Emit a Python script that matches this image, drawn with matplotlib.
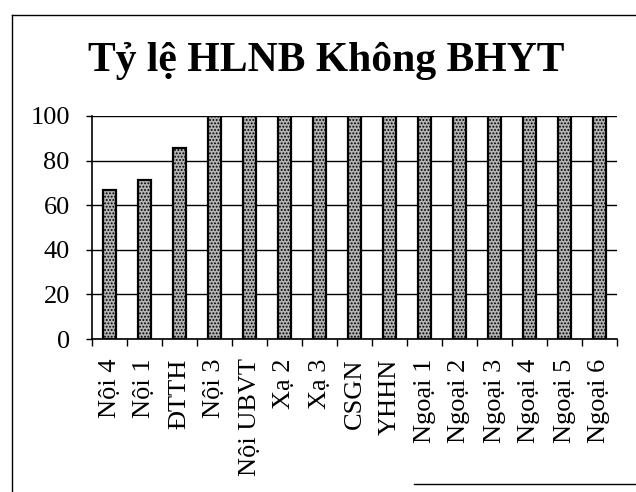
import matplotlib
matplotlib.use("Agg")
import matplotlib.pyplot as plt
from matplotlib.lines import Line2D
from matplotlib.ticker import FixedLocator, NullFormatter

plt.rcParams['font.family'] = ['Liberation Serif', 'DejaVu Serif']
plt.rcParams['hatch.linewidth'] = 0.9

title = "Tỷ lệ HLNB Không BHYT"
khoa = ["Nội 4", "Nội 1", "ĐTTH", "Nội 3", "Nội UBVT", "Xạ 2", "Xạ 3", "CSGN",
        "YHHN", "Ngoại 1", "Ngoại 2", "Ngoại 3", "Ngoại 4", "Ngoại 5", "Ngoại 6"]
ty_le = [66.7, 71.4, 85.7, 100, 100, 100, 100, 100,
         100, 100, 100, 100, 100, 100, 100]
y_ticks = [0, 20, 40, 60, 80, 100]

W, H = 636, 492
fig = plt.figure(figsize=(W / 100, H / 100), dpi=100)
ax = fig.add_axes([92 / W, 1 - 339 / H, (617 - 92) / W, (339 - 116) / H])

x = list(range(len(khoa)))
ax.bar(x, ty_le, width=0.37, color='#b4b4b4', edgecolor='black',
       linewidth=1.6, hatch='.....', zorder=3)

ax.set_xlim(-0.5, len(khoa) - 0.5)
ax.set_ylim(0, 100)
ax.set_yticks(y_ticks)
ax.yaxis.grid(True, color='black', linewidth=1.0, zorder=0)
ax.set_axisbelow(True)

ax.set_xticks(x)
ax.set_xticklabels(khoa, rotation=90, fontsize=19)
ax.xaxis.set_minor_locator(FixedLocator([i - 0.5 for i in range(len(khoa) + 1)]))
ax.xaxis.set_minor_formatter(NullFormatter())
ax.tick_params(axis='x', which='major', length=0, pad=14)
ax.tick_params(axis='x', which='minor', length=5, width=1, direction='out')
ax.tick_params(axis='y', length=4, width=1, direction='out', pad=12, labelsize=19)

for side in ('top', 'right'):
    ax.spines[side].set_visible(False)
ax.spines['left'].set_linewidth(1.2)
ax.spines['bottom'].set_linewidth(1.2)

fig.text(326 / W, 1 - 71 / H, title, ha='center', va='baseline',
         fontsize=30, fontweight='bold')

# chart area border (left, top and a piece of the bottom)
border = dict(color='black', linewidth=1.0, transform=fig.transFigure)
fig.add_artist(Line2D([12 / W, 12 / W], [0, 1 - 15 / H], **border))
fig.add_artist(Line2D([12 / W, 1], [1 - 15 / H, 1 - 15 / H], **border))
fig.add_artist(Line2D([414 / W, 1], [1 - 484 / H, 1 - 484 / H], **border))

fig.savefig("out.png", dpi=100)
